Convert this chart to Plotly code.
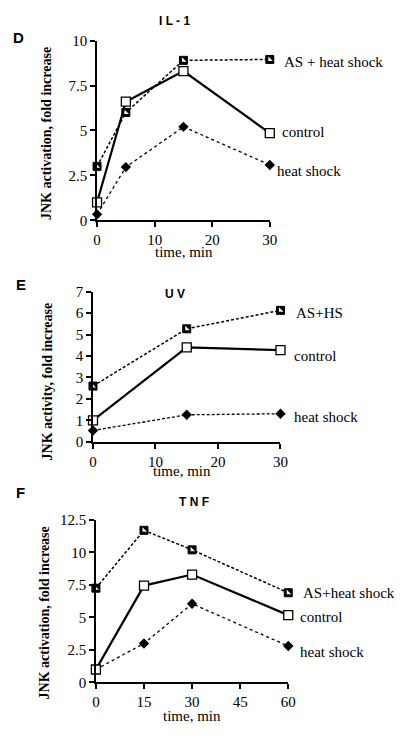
import plotly.graph_objects as go

W, H = 400, 735

# ---------------- data ----------------
il1_time = [0, 5, 15, 30]
il1_as_hs = [3.0, 6.0, 8.9, 8.95]
il1_control = [1.0, 6.6, 8.3, 4.85]
il1_heat = [0.33, 2.96, 5.2, 3.08]

uv_time = [0, 15, 30]
uv_as_hs = [2.6, 5.27, 6.13]
uv_control = [1.0, 4.4, 4.28]
uv_heat = [0.53, 1.26, 1.31]

tnf_time = [0, 15, 30, 60]
tnf_as_hs = [7.25, 11.7, 10.2, 6.9]
tnf_control = [1.0, 7.45, 8.3, 5.18]
tnf_heat = [1.0, 3.0, 6.05, 2.8]

il1_yticks = [0, 2.5, 5, 7.5, 10]
il1_yticklabels = ["0", "2.5", "5", "7.5", "10"]
il1_xticks = [0, 10, 20, 30]
uv_yticks = [0, 1, 2, 3, 4, 5, 6, 7]
uv_xticks = [0, 10, 20, 30]
tnf_yticks = [0, 2.5, 5, 7.5, 10, 12.5]
tnf_yticklabels = ["0", "2.5", "5", "7.5", "10", "12.5"]
tnf_xticks = [0, 15, 30, 45, 60]

SERIF = "Liberation Serif"
SANS = "Liberation Sans"

fig = go.Figure()


def px_x(p):
    return p / W


def px_y(p):
    return 1 - p / H


panels = [
    dict(name="", time=il1_time, as_hs=il1_as_hs, ctrl=il1_control, heat=il1_heat,
         xd=(95.7, 273.3), yd=(33.3, 217.0), xr=[0, 30], yr=[0, 10],
         xt=il1_xticks, xtl=[str(v) for v in il1_xticks],
         yt=il1_yticks, ytl=il1_yticklabels, heatdash="dot"),
    dict(name="2", time=uv_time, as_hs=uv_as_hs, ctrl=uv_control, heat=uv_heat,
         xd=(91.5, 284.3), yd=(290.0, 443.5), xr=[0, 30], yr=[0, 7],
         xt=uv_xticks, xtl=[str(v) for v in uv_xticks],
         yt=uv_yticks, ytl=[str(v) for v in uv_yticks], heatdash="3px,2px"),
    dict(name="3", time=tnf_time, as_hs=tnf_as_hs, ctrl=tnf_control, heat=tnf_heat,
         xd=(94.5, 292.3), yd=(523.3, 689.5), xr=[0, 60], yr=[0, 12.5],
         xt=tnf_xticks, xtl=[str(v) for v in tnf_xticks],
         yt=tnf_yticks, ytl=tnf_yticklabels, heatdash="dot"),
]

for p in panels:
    xa = "x" + p["name"]
    ya = "y" + p["name"]
    common = dict(xaxis=xa, yaxis=ya, mode="lines+markers", showlegend=False,
                  cliponaxis=False, hoverinfo="skip")
    fig.add_trace(go.Scatter(x=p["time"], y=p["heat"],
                             line=dict(color="black", width=1.3, dash=p["heatdash"]),
                             marker=dict(symbol="diamond", size=8, color="black"),
                             **common))
    fig.add_trace(go.Scatter(x=p["time"], y=p["as_hs"],
                             line=dict(color="black", width=1.5, dash="3px,2px"),
                             marker=dict(symbol="square", size=8, color="black",
                                         line=dict(color="black", width=1)),
                             **common))
    fig.add_trace(go.Scatter(x=p["time"], y=p["as_hs"], xaxis=xa, yaxis=ya,
                             mode="markers", showlegend=False, cliponaxis=False,
                             hoverinfo="skip",
                             marker=dict(symbol="triangle-sw", size=5, color="white",
                                         line=dict(width=0))))
    fig.add_trace(go.Scatter(x=p["time"], y=p["ctrl"],
                             line=dict(color="black", width=2.2),
                             marker=dict(symbol="square", size=9, color="white",
                                         line=dict(color="black", width=1.3)),
                             **common))

axis_common = dict(showline=True, linecolor="black", linewidth=1.5, ticks="outside",
                   ticklen=5, tickwidth=1.5, tickcolor="black", showgrid=False,
                   zeroline=False, fixedrange=True,
                   tickfont=dict(family=SERIF, size=15, color="black"))

layout = dict(width=W, height=H, margin=dict(l=0, r=0, t=0, b=0),
              paper_bgcolor="white", plot_bgcolor="white")
for p in panels:
    n = p["name"]
    layout["xaxis" + n] = dict(domain=[px_x(p["xd"][0]), px_x(p["xd"][1])],
                               range=p["xr"], anchor="y" + n,
                               tickvals=p["xt"], ticktext=p["xtl"], **axis_common)
    layout["yaxis" + n] = dict(domain=[px_y(p["yd"][1]), px_y(p["yd"][0])],
                               range=p["yr"], anchor="x" + n,
                               tickvals=p["yt"], ticktext=p["ytl"], **axis_common)
fig.update_layout(**layout)

ann = []


def text(x, y, s, size=15, family=SERIF, xanchor="left", angle=0, bold=False):
    if bold:
        s = "<b>" + s + "</b>"
    ann.append(dict(x=px_x(x), y=px_y(y), xref="paper", yref="paper", text=s,
                    showarrow=False, xanchor=xanchor, yanchor="middle",
                    textangle=angle, font=dict(family=family, size=size, color="black")))


# panel letters and titles
text(15, 30, "D", size=15, family=SANS, xanchor="center", bold=True)
text(17, 283, "E", size=15, family=SANS, xanchor="center", bold=True)
text(17, 495, "F", size=15, family=SANS, xanchor="center", bold=True)
text(175, 13, "I L - 1", size=12, family=SANS, xanchor="center", bold=True)
text(176, 292, "U V", size=12, family=SANS, xanchor="center", bold=True)
text(195, 505, "T N F", size=12, family=SANS, xanchor="center", bold=True)

# y titles
text(43, 128, "JNK activation, fold increase", size=14, xanchor="center", angle=-90, bold=True)
text(45, 382, "JNK activity, fold increase", size=14, xanchor="center", angle=-90, bold=True)
text(42, 618, "JNK activation, fold increase", size=14, xanchor="center", angle=-90, bold=True)

# x titles
text(185, 249, "time, min", xanchor="center")
text(183, 473, "time, min", xanchor="center")
text(193, 724, "time, min", xanchor="center")

# series labels
text(286, 55, "AS + heat shock")
text(284, 127, "control")
text(279, 167, "heat shock")
text(298, 312, "AS+HS")
text(296, 356, "control")
text(296, 418, "heat shock")
text(305, 598, "AS+heat shock")
text(302, 623, "control")
text(302, 658, "heat shock")

fig.update_layout(annotations=ann)
fig.write_html("out.html", config={"displayModeBar": False},
               post_script="document.body.style.margin='0';document.body.style.overflow='hidden';")
